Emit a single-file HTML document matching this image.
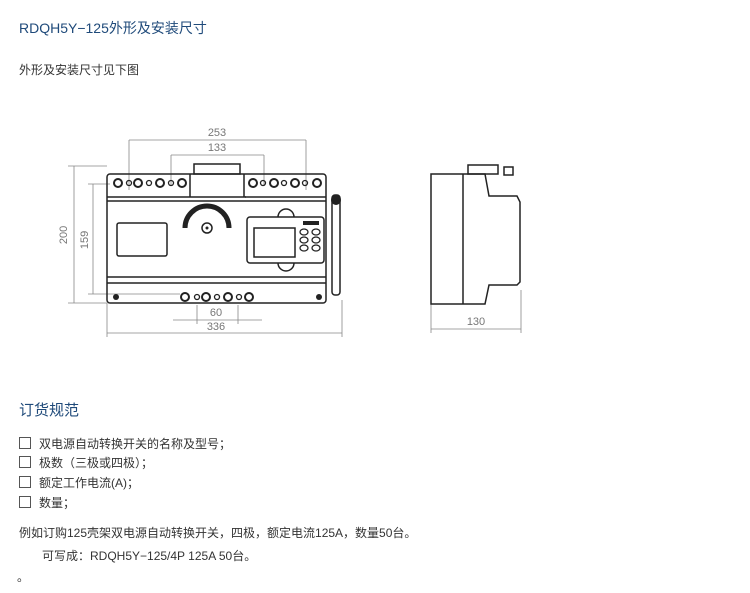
<!DOCTYPE html>
<html><head><meta charset="utf-8"><style>
body{margin:0;width:750px;height:593px;background:#fff;position:relative;overflow:hidden;font-family:"Liberation Sans","Noto Sans CJK SC",sans-serif;color:#333}
.t{position:absolute;white-space:nowrap;line-height:1}
.blue{color:#1f4a7a}
.cb{display:inline-block;width:10px;height:10px;border:1px solid #555;margin-right:8px;vertical-align:-1px}
</style></head><body>
<div class="t blue" style="left:19px;top:21px;font-size:14px">RDQH5Y−125外形及安装尺寸</div>
<div class="t" style="left:19px;top:64px;font-size:12px">外形及安装尺寸见下图</div>
<svg style="position:absolute;left:0;top:0" width="750" height="593">
<g fill="none" stroke="#888" stroke-width="0.8">
<path d="M129 140H306M129 140V190M306 140V190"/>
<path d="M171 155H264M171 155V185M264 155V185"/>
<path d="M74 166V303M68 166H107M68 303H107"/>
<path d="M93 184V294M88 184H110M88 294H180"/>
<path d="M173 320H262M197 305V324M238 305V324"/>
<path d="M107 333H342M107 303V337M342 300V337"/>
<path d="M431 329H521M431 304V333M521 290V333"/>
</g>
<g font-family="Liberation Sans" font-size="11" fill="#777" text-anchor="middle">
<text x="217" y="136">253</text><text x="217" y="151">133</text>
<text x="216" y="316">60</text><text x="216" y="330">336</text>
<text x="476" y="325">130</text>
<text transform="translate(67,235) rotate(-90)">200</text>
<text transform="translate(88,240) rotate(-90)">159</text>
</g>
<g fill="none" stroke="#222" stroke-width="1.5">
<rect x="107" y="174" width="219" height="129" rx="3"/>
<path d="M107 197H326M107 201H326M107 277H326M107 283H326"/>
<rect x="194" y="164" width="46" height="10"/>
<path d="M244 174V197M245 197H246M190 174V197"/>
<rect x="117" y="223" width="50" height="33" rx="2"/>
<path d="M185 228A22 22 0 0 1 229 228" stroke-width="5"/>
<circle cx="207" cy="228" r="5"/>
<rect x="247" y="217" width="77" height="46" rx="3"/>
<rect x="254" y="228" width="41" height="29"/>
<path d="M278 217A8 8 0 0 1 294 217M278 263A8 8 0 0 0 294 263"/>
<rect x="332" y="195" width="8" height="100" rx="3"/>
</g>
<g fill="#222">
<rect x="303" y="221" width="16" height="4"/>
<circle cx="207" cy="228" r="1.5"/>
<circle cx="116" cy="297" r="3"/><circle cx="319" cy="297" r="3"/>
<circle cx="336" cy="200" r="5"/>
</g>
<g fill="none" stroke="#222" stroke-width="1.3">
<ellipse cx="304" cy="232" rx="4" ry="3"/><ellipse cx="316" cy="232" rx="4" ry="3"/>
<ellipse cx="304" cy="240" rx="4" ry="3"/><ellipse cx="316" cy="240" rx="4" ry="3"/>
<ellipse cx="304" cy="248" rx="4" ry="3"/><ellipse cx="316" cy="248" rx="4" ry="3"/>
<g stroke-width="2">
<circle cx="118" cy="183" r="4"/><circle cx="138" cy="183" r="4"/><circle cx="160" cy="183" r="4"/><circle cx="182" cy="183" r="4"/>
<circle cx="253" cy="183" r="4"/><circle cx="274" cy="183" r="4"/><circle cx="295" cy="183" r="4"/><circle cx="317" cy="183" r="4"/>
<circle cx="185" cy="297" r="4"/><circle cx="206" cy="297" r="4"/><circle cx="228" cy="297" r="4"/><circle cx="249" cy="297" r="4"/>
</g>
<circle cx="129" cy="183" r="2.5"/><circle cx="149" cy="183" r="2.5"/><circle cx="171" cy="183" r="2.5"/>
<circle cx="263" cy="183" r="2.5"/><circle cx="284" cy="183" r="2.5"/><circle cx="305" cy="183" r="2.5"/>
<circle cx="197" cy="297" r="2.5"/><circle cx="217" cy="297" r="2.5"/><circle cx="239" cy="297" r="2.5"/>
</g>
<g fill="none" stroke="#222" stroke-width="1.5">
<path d="M431 174H485L489 196H517L520 202V282L517 285H489L485 304H431Z"/>
<path d="M463 174V304"/>
<rect x="468" y="165" width="30" height="9"/>
<rect x="504" y="167" width="9" height="8"/>
</g>
</svg>
<div class="t blue" style="left:19px;top:403px;font-size:15px">订货规范</div>
<div class="t" style="left:19px;top:437px;font-size:12px"><span class="cb"></span>双电源自动转换开关的名称及型号；</div>
<div class="t" style="left:19px;top:456px;font-size:12px"><span class="cb"></span>极数（三极或四极）；</div>
<div class="t" style="left:19px;top:476px;font-size:12px"><span class="cb"></span>额定工作电流(A)；</div>
<div class="t" style="left:19px;top:496px;font-size:12px"><span class="cb"></span>数量；</div>
<div class="t" style="left:19px;top:527px;font-size:12px">例如订购125壳架双电源自动转换开关，四极，额定电流125A，数量50台。</div>
<div class="t" style="left:42px;top:550px;font-size:12px">可写成：RDQH5Y−125/4P 125A 50台。</div>
<div class="t" style="left:17px;top:571px;font-size:12px">。</div>
</body></html>
